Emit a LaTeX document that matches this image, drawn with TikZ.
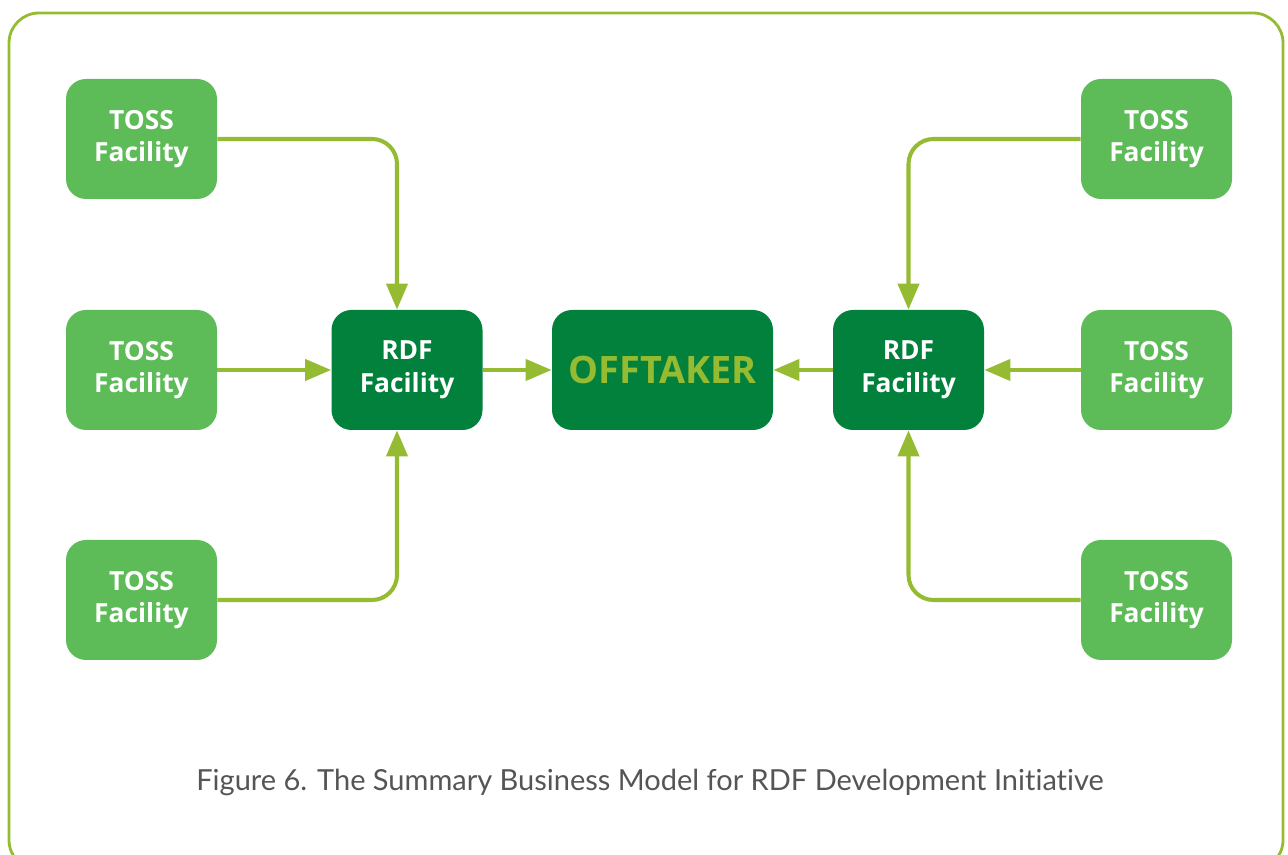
\documentclass[tikz,border=0pt]{standalone}
\usepackage{fontspec}
\setmainfont[Ligatures={NoCommon,NoRare},Contextuals=NoAlternate,RawFeature={-liga;-dlig}]{Lato}
\newfontfamily\boxfont{Open Sans}
\usepackage{tikz}
\usetikzlibrary{arrows.meta}
\definecolor{tossgreen}{HTML}{5DBB58}
\definecolor{rdfgreen}{HTML}{02813C}
\definecolor{linegreen}{HTML}{95BB32}
\definecolor{capgray}{HTML}{555555}

\begin{document}
\begin{tikzpicture}[>={Triangle[length=0.52cm,width=0.42cm]},
  toss node/.style={rectangle,rounded corners=0.4cm,fill=tossgreen,text=white,
    minimum width=3.02cm,minimum height=2.4cm,align=center,
    font=\boxfont\fontsize{15}{18.5}\selectfont\bfseries},
  rdf node/.style={toss node,fill=rdfgreen},
  link/.style={->,draw=linegreen,line width=2.3pt,rounded corners=0.5cm}]
  \useasboundingbox (0,0) rectangle (25.76,17.1);
  \draw[linegreen,line width=1.6pt,rounded corners=0.6cm] (0.18,16.84) rectangle (25.66,-0.3);

  \node[toss node] (tossL1) at (2.83,14.32) {TOSS\\Facility};
  \node[toss node] (tossL2) at (2.83,9.70) {TOSS\\Facility};
  \node[toss node] (tossL3) at (2.83,5.10) {TOSS\\Facility};
  \node[rdf node] (rdfL) at (8.14,9.70) {RDF\\Facility};
  \node[rdf node,minimum width=4.42cm,text=linegreen,
    font=\boxfont\fontsize{21.5}{24}\selectfont\bfseries] (offtaker) at (13.25,9.70) {OFFTAKER};
  \node[rdf node] (rdfR) at (18.17,9.70) {RDF\\Facility};
  \node[toss node] (tossR1) at (23.13,14.32) {TOSS\\Facility};
  \node[toss node] (tossR2) at (23.13,9.70) {TOSS\\Facility};
  \node[toss node] (tossR3) at (23.13,5.10) {TOSS\\Facility};

  \node[text=capgray,font=\fontsize{16.5}{20}\selectfont] (caption) at (13.0,1.46)
    {Figure 6. The Summary Business Model for RDF Development Initiative};

  \draw[link] (tossL1.east) -| ([xshift=-0.2cm]rdfL.north);
  \draw[link] (tossL2.east) -- (rdfL.west);
  \draw[link] (tossL3.east) -| ([xshift=-0.2cm]rdfL.south);
  \draw[link] (rdfL.east) -- (offtaker.west);
  \draw[link] (rdfR.west) -- (offtaker.east);
  \draw[link] (tossR1.west) -| (rdfR.north);
  \draw[link] (tossR2.west) -- (rdfR.east);
  \draw[link] (tossR3.west) -| (rdfR.south);
\end{tikzpicture}
\end{document}
